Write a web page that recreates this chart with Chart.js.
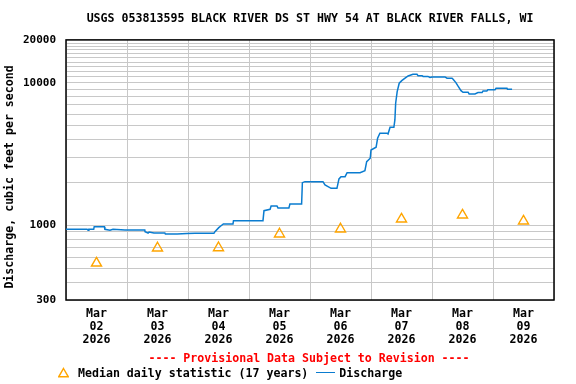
<!DOCTYPE html>
<html>
<head>
<meta charset="utf-8">
<script src="https://cdn.jsdelivr.net/npm/chart.js@4"></script>
<style>
  body { margin: 0; background: #fff; }
  #wrap { position: relative; width: 576px; height: 384px; font-family: "DejaVu Sans Mono", monospace; font-weight: bold; font-size: 11.6px; }
  #provisional { position: absolute; left: 0; width: 618px; top: 350px; text-align: center; color: #ff0000; line-height: 16px; white-space: pre; }
  #legend { position: absolute; left: 58px; top: 365px; line-height: 16px; white-space: pre; color: #000; }
  #legend svg { vertical-align: -1px; margin-right: 9px; }
  .dline { display: inline-block; width: 19px; height: 0; border-top: 1.5px solid #0a7cd0; vertical-align: 4px; margin: 0 4px 0 8px; }
</style>
</head>
<body>
<div id="wrap">
  <canvas id="grafico" width="576" height="384"></canvas>
  <div id="provisional">---- Provisional Data Subject to Revision ----</div>
  <div id="legend"><svg width="11" height="11"><polygon points="5.5,1.5 10.3,9.8 0.7,9.8" fill="none" stroke="#ffa500" stroke-width="1.4"/></svg>Median daily statistic (17 years)<span class="dline"></span>Discharge</div>
</div>
<script>
// horas desde 02/03 00:00
const xTickHours = [0, 12, 24, 36, 48, 60, 72, 84, 96, 108, 120, 132, 144, 156, 168, 180, 192];
const dayLabels = ['02', '03', '04', '05', '06', '07', '08', '09'];
const monthLabel = 'Mar';
const yearLabel = '2026';

const yGridValues = [300, 400, 500, 600, 700, 800, 900,
    1000, 2000, 3000, 4000, 5000, 6000, 7000, 8000, 9000,
    10000, 11000, 12000, 13000, 14000, 15000, 16000, 17000, 18000, 19000, 20000];
const yLabelValues = [300, 1000, 10000, 20000];

// mediana diaria (17 anos), ao meio-dia
const medianHours = [12, 36, 60, 84, 108, 132, 156, 180];
const medianValues = [544, 694, 697, 870, 943, 1108, 1182, 1073];

// vazao (pes cubicos por segundo)
const dischargeHours = [0, 8.3, 8.7, 9.0, 10.9, 11.1, 15.1, 15.3, 17.3, 18.5, 23.2, 27.1, 31.0, 31.1, 32.3, 32.7,
    34.6, 38.9, 39.1, 43.7, 47.6, 50.8, 58.2, 58.6, 60.1, 60.9, 61.9, 65.7, 65.9, 77.5, 77.9, 80.3,
    80.7, 83.0, 83.4, 87.7, 88.1, 92.7, 93.0, 94.0, 101.1, 101.9, 103.1, 104.3, 106.6, 107.4, 108.2, 109.8,
    110.6, 115.7, 117.6, 118.3, 119.7, 120.0, 122.0, 122.6, 123.5, 126.3, 126.7, 127.5, 129.0, 129.4, 129.7, 130.3,
    131.1, 132.1, 133.4, 134.6, 136.5, 138.1, 138.5, 140.1, 140.5, 142.4, 143.2, 144.0, 149.1, 149.9, 151.9, 152.3,
    153.4, 154.2, 155.4, 156.2, 158.2, 158.6, 160.9, 162.1, 163.7, 164.1, 165.6, 166.0, 168.8, 169.2, 173.5, 173.7, 175.5];
const dischargeValues = [940, 940, 925, 940, 940, 980, 980, 940, 925, 940, 930, 930, 930, 904, 885, 900,
    885, 885, 871, 871, 878, 880, 880, 904, 965, 991, 1024, 1024, 1080, 1080, 1269, 1298,
    1369, 1369, 1326, 1326, 1415, 1415, 1995, 2028, 2028, 1922, 1871, 1822, 1822, 2118, 2198, 2198,
    2345, 2345, 2420, 2800, 2960, 3380, 3534, 4087, 4432, 4432, 4380, 4883, 4883, 5494, 7193, 8678,
    9937, 10364, 10774, 11182, 11494, 11494, 11236, 11236, 11100, 11100, 10900, 11003, 11003, 10774, 10774, 10601,
    10034, 9514, 8819, 8594, 8594, 8361, 8361, 8540, 8540, 8776, 8776, 8962, 8962, 9167, 9167, 9000, 9000];

const fonte = { family: '"DejaVu Sans Mono", monospace', size: 11.6, weight: 'bold' };

// moldura preta em volta da area do grafico
const moldura = {
    id: 'moldura',
    beforeDatasetsDraw(chart) {
        const { ctx, chartArea: a } = chart;
        ctx.save();
        ctx.strokeStyle = '#000';
        ctx.lineWidth = 1.5;
        ctx.strokeRect(a.left, a.top, a.right - a.left, a.bottom - a.top);
        ctx.restore();
    }
};

const ctx = document.getElementById('grafico').getContext('2d');
new Chart(ctx, {
    type: 'line',
    data: {
        datasets: [
            {
                label: 'Discharge',
                data: dischargeHours.map((h, i) => ({ x: h, y: dischargeValues[i] })),
                borderColor: '#0a7cd0',
                borderWidth: 1.5,
                pointRadius: 0,
                tension: 0,
                fill: false
            },
            {
                label: 'Median daily statistic (17 years)',
                data: medianHours.map((h, i) => ({ x: h, y: medianValues[i] })),
                showLine: false,
                pointStyle: 'triangle',
                pointRadius: 5.8,
                borderColor: '#ffa500',
                backgroundColor: 'rgba(0,0,0,0)',
                borderWidth: 1.4
            }
        ]
    },
    options: {
        responsive: false,
        animation: false,
        layout: { padding: { left: 0, right: 22, top: 0, bottom: 34 } },
        plugins: {
            legend: { display: false },
            tooltip: { enabled: false },
            title: {
                display: true,
                text: 'USGS 053813595 BLACK RIVER DS ST HWY 54 AT BLACK RIVER FALLS, WI',
                color: '#000',
                font: fonte,
                fullSize: false,
                padding: { top: 12, bottom: 14 }
            }
        },
        scales: {
            x: {
                type: 'linear',
                min: 0,
                max: 192,
                afterBuildTicks: (scale) => { scale.ticks = xTickHours.map(v => ({ value: v })); },
                afterFit: (scale) => { scale.height = 50; },
                grid: {
                    color: (c) => (c.tick && c.tick.value % 24 === 0) ? '#c8c8c8' : 'rgba(0,0,0,0)',
                    lineWidth: 1,
                    drawTicks: false
                },
                border: { display: false },
                ticks: {
                    autoSkip: false,
                    maxRotation: 0,
                    padding: 7,
                    color: '#000',
                    font: { ...fonte, lineHeight: 1.15 },
                    callback: (v) => v % 24 === 12 ? [monthLabel, dayLabels[(v - 12) / 24], yearLabel] : ''
                }
            },
            y: {
                type: 'logarithmic',
                min: 300,
                max: 20000,
                afterBuildTicks: (scale) => { scale.ticks = yGridValues.map(v => ({ value: v })); },
                afterFit: (scale) => { scale.width = 66; },
                grid: { color: '#c8c8c8', lineWidth: 1, drawTicks: false },
                border: { display: false },
                ticks: {
                    autoSkip: false,
                    padding: 10,
                    color: '#000',
                    font: { ...fonte, size: 11 },
                    callback: (v) => yLabelValues.includes(v) ? String(v) : ''
                },
                title: {
                    display: true,
                    text: 'Discharge, cubic feet per second  ',
                    color: '#000',
                    font: fonte,
                    padding: { top: 3, bottom: 0 }
                }
            }
        }
    },
    plugins: [moldura]
});
</script>
</body>
</html>
